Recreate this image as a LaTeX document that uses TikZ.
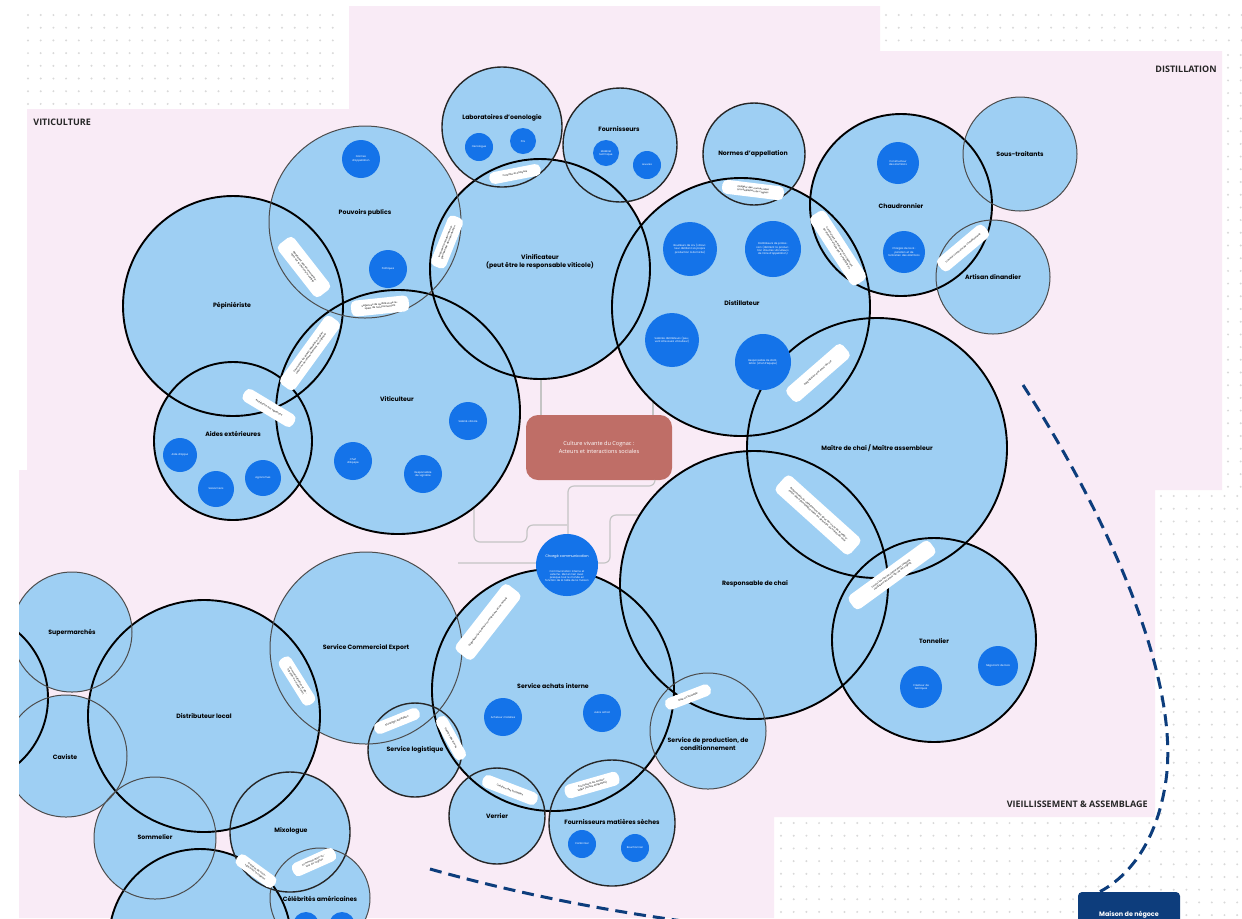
\documentclass[tikz,border=0pt]{standalone}
\usepackage{fontspec}
\setmainfont{Poppins}
\newfontfamily\secfont{Open Sans}
\newfontfamily\boxfont{Open Sans}
\definecolor{pinkbg}{HTML}{F9EBF6}
\definecolor{lblue}{HTML}{9ECFF3}
\definecolor{dblue}{HTML}{1473E9}
\definecolor{boxred}{HTML}{BF6E67}
\definecolor{navy}{HTML}{0D3D7C}
\definecolor{dotgray}{HTML}{D9D9D9}
\definecolor{linegray}{HTML}{C4C4C4}
\tikzset{
 lbl/.style={font=\bfseries\fontsize{3.1}{3.8}\selectfont, text=black, align=center, inner sep=0pt},
 dk/.style={circle, fill=dblue, inner sep=0pt, text=white, align=center, font=\fontsize{1.3}{1.6}\selectfont},
 badge/.style={fill=white, rounded corners=2.5pt, inner xsep=2pt, inner ysep=0.5pt, align=center, text=black, font=\fontsize{1.2}{1.5}\selectfont},
 bc/.style={circle, fill=lblue, inner sep=0pt},
 thk/.style={draw=black, line width=0.95pt},
 midl/.style={draw=black!85, line width=0.7pt},
 thn/.style={draw=black!70, line width=0.5pt},
 conn/.style={draw=linegray, line width=0.6pt, rounded corners=3pt},
 navydash/.style={draw=navy, line width=1.5pt, dash pattern=on 6pt off 3.5pt},
 sect/.style={font=\secfont\bfseries\fontsize{4.5}{5.5}\selectfont, text=black!85, inner sep=0pt}
}
\newcommand\dotgrid[4]{%
 \pgfmathtruncatemacro\nxx{(#3-#1)/12.7}%
 \pgfmathtruncatemacro\nyy{(#4-#2)/12.7}%
 \foreach \i in {0,...,\nxx}{\foreach \j in {0,...,\nyy}{\fill[dotgray] ({#1+12.7*\i},{#2+12.7*\j}) circle (1.1);}}}
\begin{document}
\begin{tikzpicture}[x=0.5pt,y=-0.5pt]
\useasboundingbox (0,0) rectangle (1242,918);
\fill[white] (0,0) rectangle (1242,918);
% dotted background areas
\dotgrid{28}{15}{345}{104}
\dotgrid{886}{15}{1242}{48}
\dotgrid{1228}{55}{1242}{490}
\dotgrid{1161}{496}{1242}{918}
\dotgrid{781}{823}{1155}{918}
% pink area
\fill[pinkbg] (19,918) -- (19,470) -- (27,470) -- (27,109) -- (349,109) -- (349,6) -- (880,6) -- (880,51) -- (1222,51) -- (1222,490) -- (1155,490) -- (1155,817) -- (774,817) -- (774,918) -- cycle;
% section titles
\node[sect, anchor=west] (sviti) at (33,122) {VITICULTURE};
\node[sect, anchor=east] (sdist) at (1217,69) {DISTILLATION};
\node[sect, anchor=east] (svieil) at (1148,804) {VIEILLISSEMENT \& ASSEMBLAGE};
% central box
\node[fill=boxred, rounded corners=6pt, minimum width=73pt, minimum height=32.5pt, text=white, align=center, inner sep=0pt, font=\boxfont\fontsize{2.8}{3.8}\selectfont] (core) at (599,447.5) {Culture vivante du Cognac :\\Acteurs et interactions sociales};
% gray connectors
\coordinate (g1) at (541,378);
\coordinate (g2) at (653,370);
\coordinate (g3) at (474,505);
\coordinate (g4) at (458,563);
\coordinate (g5) at (640,515);
\draw[conn] (g1) -- (g1 |- core.north);
\draw[conn] (g2) -- (g2 |- core.north);
\draw[conn] (655,480) -- (655,486) -- (568,486) -- (568,534);
\draw[conn] (g3) -- (474,542) -- (527,542) -- (527,525) -- (567,525);
\draw[conn] (g4) -- (610,563) -- (610,515) -- (g5);
% navy dashed connectors
\node[fill=navy, rounded corners=2pt, minimum width=51pt, minimum height=30pt, inner sep=0pt] (maison) at (1129,922) {};
\node[text=white, font=\bfseries\fontsize{3.2}{4}\selectfont, inner sep=0pt] (maisont) at (1129,915) {Maison de négoce};
\coordinate (nd1) at (1023,385);
\coordinate (nd2) at (430,869);
\draw[navydash] (nd1) .. controls (1110,520) and (1180,680) .. (1166,780) .. controls (1156,850) and (1122,880) .. (maison.north -| 1100,0);
\draw[navydash] (nd2) .. controls (700,945) and (980,950) .. (maison.west);
\begin{scope}
\clip (19,0) rectangle (1242,918);
% circle fills
\foreach \n/\x/\y/\r in {pep/233/306/110, pouv/365/222/96, vin/540/269/110, labo/502/127/60, four/620/145/57, norm/754/154/51, dist/741/307/129, chaud/901/205/91, sous/1020/154/57, artis/993/277/57, viti/398/412/122, aides/233/441/79, mdc/877/448/130, rdc/754/585/134, ton/934/640/102, sce/366/648/96, distl/204/716/116, super/72/632/60, cav/66/756/61, farl/-39/698/87, somm/155/838/61, mixo/290/832/60, bigb/200/940/91, celeb/320/898/50, achat/553/690/121, logi/415/750/47, verr/497/816/48, fms/612/823/63, prod/708/731/58}
 {\node[bc, minimum size=\r pt] (\n) at (\x,\y) {};}
% outlines
\foreach \n/\r in {pep/110, vin/110, dist/129, chaud/91, viti/122, aides/79, mdc/130, rdc/134, ton/102, distl/116, farl/87, bigb/91, achat/121}
 {\draw[thk] (\n) circle (\r);}
\foreach \n/\r in {labo/60, four/57, norm/51, mixo/60, logi/47, verr/48, fms/63}
 {\draw[midl] (\n) circle (\r);}
\foreach \n/\r in {pouv/96, sous/57, artis/57, sce/96, super/60, cav/61, somm/61, celeb/50, prod/58}
 {\draw[thn] (\n) circle (\r);}
% dark circles
\node[dk, minimum size=19pt, text width=14pt] (pd1) at (361,159) {Normes\\d'appellation};
\node[dk, minimum size=19pt, text width=14pt] (pd2) at (388,269) {Politiques};
\node[dk, minimum size=14pt, text width=11pt] (ld1) at (479,147) {Oenologue};
\node[dk, minimum size=13pt, text width=10pt] (ld2) at (523,141) {Prix};
\node[dk, minimum size=13pt, text width=10pt] (fd1) at (606,153) {Matériel\\technique};
\node[dk, minimum size=14pt, text width=10pt] (fd2) at (647,165) {Levures};
\node[dk, minimum size=27pt, text width=20pt] (dd1) at (690,249) {Bouilleurs de cru (viticulteur distillant sa propre production à domicile)};
\node[dk, minimum size=28pt, text width=21pt] (dd2) at (773,249) {Distillateurs de profession (distillent la production d'autres viticulteurs de l'aire d'appellation)};
\node[dk, minimum size=27pt, text width=21pt] (dd3) at (672,340) {Salariés distillateurs (peuvent être aussi viticulteur)};
\node[dk, minimum size=28pt, text width=19pt] (dd4) at (763,362) {Responsable de distillation (chef d'équipe)};
\node[dk, minimum size=21pt, text width=15pt] (cd1) at (898,163) {Constructeur des alambics};
\node[dk, minimum size=21pt, text width=16pt] (cd2) at (904,252) {Chargés de la réparation et de l'entretien des alambics};
\node[dk, minimum size=19pt, text width=14pt] (vd1) at (468,421) {Salarié viticole};
\node[dk, minimum size=19pt, text width=12pt] (vd2) at (353,461) {Chef\\d'équipe};
\node[dk, minimum size=19pt, text width=14pt] (vd3) at (423,474) {Responsable de vignoble};
\node[dk, minimum size=17pt, text width=13pt] (ad1) at (180,455) {Aide d'appui};
\node[dk, minimum size=18pt, text width=14pt] (ad2) at (216,489) {Saisonniers};
\node[dk, minimum size=18pt, text width=14pt] (ad3) at (263,478) {Agronomes};
\node[dk, minimum size=21pt, text width=14pt] (td1) at (921,687) {Créateur de barriques};
\node[dk, minimum size=20pt, text width=14pt] (td2) at (998,666) {Négociant de bois};
\node[dk, minimum size=19pt, text width=14pt] (ach1) at (503,717) {Acheteur matières};
\node[dk, minimum size=19pt, text width=14pt] (ach2) at (602,713) {Autre achat};
\node[dk, minimum size=14pt, text width=11pt] (fm1) at (582,844) {Cartonnier};
\node[dk, minimum size=14pt, text width=11pt] (fm2) at (635,848) {Bouchonnier};
\node[dk, minimum size=13pt] (ce1) at (306,925) {};
\node[dk, minimum size=13pt] (ce2) at (342,925) {};
\node[dk, minimum size=31pt] (com) at (567,565) {};
\node[text=white, font=\fontsize{1.8}{2.2}\selectfont, inner sep=0pt] (comt) at (567,557) {Chargé communication};
\node[text=white, font=\fontsize{1.3}{1.65}\selectfont, text width=22pt, align=center, inner sep=0pt] (comd) at (567,576) {Communication interne et externe. Met en lien avec presque tout le monde en fonction de la taille de la maison};
% labels
\node[lbl] (lpep) at (232,306) {Pépiniériste};
\node[lbl] (lpouv) at (365,213) {Pouvoirs publics};
\node[lbl] (lvin) at (540,262) {Vinificateur\\(peut être le responsable viticole)};
\node[lbl] (llabo) at (502,118) {Laboratoires d'oenologie};
\node[lbl] (lfour) at (619,129) {Fournisseurs};
\node[lbl] (lnorm) at (753,154) {Normes d'appellation};
\node[lbl] (ldist) at (742,303) {Distillateur};
\node[lbl] (lchaud) at (901,206) {Chaudronnier};
\node[lbl] (lsous) at (1020,154) {Sous-traitants};
\node[lbl] (lartis) at (993,277) {Artisan dinandier};
\node[lbl] (lviti) at (397,399) {Viticulteur};
\node[lbl] (laides) at (233,434) {Aides extérieures};
\node[lbl] (lmdc) at (877,448) {Maître de chai / Maître assembleur};
\node[lbl] (lrdc) at (755,584) {Responsable de chai};
\node[lbl] (lton) at (934,641) {Tonnelier};
\node[lbl] (lsce) at (366,648) {Service Commercial Export};
\node[lbl] (ldistl) at (204,716) {Distributeur local};
\node[lbl] (lsuper) at (72,633) {Supermarchés};
\node[lbl] (lcav) at (65,757) {Caviste};
\node[lbl] (lsomm) at (155,837) {Sommelier};
\node[lbl] (lmixo) at (291,831) {Mixologue};
\node[lbl] (lceleb) at (320,899) {Célébrités américaines};
\node[lbl] (lachat) at (553,686) {Service achats interne};
\node[lbl] (llogi) at (415,750) {Service logistique};
\node[lbl] (lverr) at (497,816) {Verrier};
\node[lbl] (lfms) at (612,822) {Fournisseurs matières sèches};
\node[lbl] (lprod) at (708,744) {Service de production, de\\conditionnement};
% badges
\node[badge, minimum height=10pt, text width=29pt, rotate=-52] (b1) at (304,267) {Établissent des recommandations sur le choix de la variété};
\node[badge, minimum height=8pt, text width=23pt, rotate=68] (b2) at (447,242) {Imposent l'encadrement réglementaire de la production};
\node[badge, minimum height=6pt, text width=22pt, rotate=11] (b3) at (515,174) {Contrôle et analyses};
\node[badge, minimum height=7pt, text width=27pt, rotate=-7] (b4) at (753,190) {Obligent des normes liées à la distillation du cognac};
\node[badge, minimum height=9pt, text width=37pt, rotate=-57] (b5) at (838,248) {Construisent, entretiennent et réparent les alambics utilisés par les distillateurs};
\node[badge, minimum height=8pt, text width=26pt, rotate=40] (b6) at (963,248) {Travaux communs de chaudronnerie};
\node[badge, minimum height=9pt, text width=33pt, rotate=41] (b7) at (818,373) {Dégustation des eaux-de-vie};
\node[badge, minimum height=11pt, text width=46pt, rotate=-42] (b8) at (818,515) {Responsable du vieillissement des eaux-de-vie et de la préparation des assemblages selon les directives du maître de chai};
\node[badge, minimum height=8.5pt, text width=46pt, rotate=36] (b9) at (892,575) {Fournit les fûts de chêne dans lesquels vieillissent les eaux-de-vie de cognac};
\node[badge, minimum height=11pt, text width=38pt, rotate=52] (b10) at (488,622) {Organisent les besoins commerciaux et les achats};
\node[badge, minimum height=6pt, text width=20pt, rotate=22] (b11) at (397,721) {Stockage, expédition};
\node[badge, minimum height=6pt, text width=20pt, rotate=-61] (b12) at (451,738) {Gestion des stocks};
\node[badge, minimum height=6.5pt, text width=25pt, rotate=-21] (b13) at (510,790) {Création des bouteilles};
\node[badge, minimum height=7pt, text width=24pt, rotate=16] (b14) at (592,785) {Fournissent les emballages (boîtes, étiquettes)};
\node[badge, minimum height=6pt, text width=20pt, rotate=21] (b15) at (688,697) {Mise en bouteille};
\node[badge, minimum height=7pt, text width=23pt, rotate=-58] (b16) at (297,681) {Commercialisation et distribution au niveau local};
\node[badge, minimum height=6.5pt, text width=19pt, rotate=-36] (b17) at (256,871) {Création de cocktails avec le cognac};
\node[badge, minimum height=7pt, text width=19pt, rotate=24] (b18) at (314,862) {Communication autour du cognac};
\node[badge, minimum height=7pt, text width=25pt, rotate=-31] (b19) at (269,408) {Assistance aux vignerons};
\node[badge, minimum height=9pt, text width=38pt, rotate=54] (b20) at (310,353) {Fournissent les plants adaptés à la plantation ou au renouvellement du vignoble};
\node[badge, minimum height=8pt, text width=25pt, rotate=6] (b21) at (380,306) {Exigences de qualité et de respect de l'environnement};
\end{scope}
\end{tikzpicture}
\end{document}
